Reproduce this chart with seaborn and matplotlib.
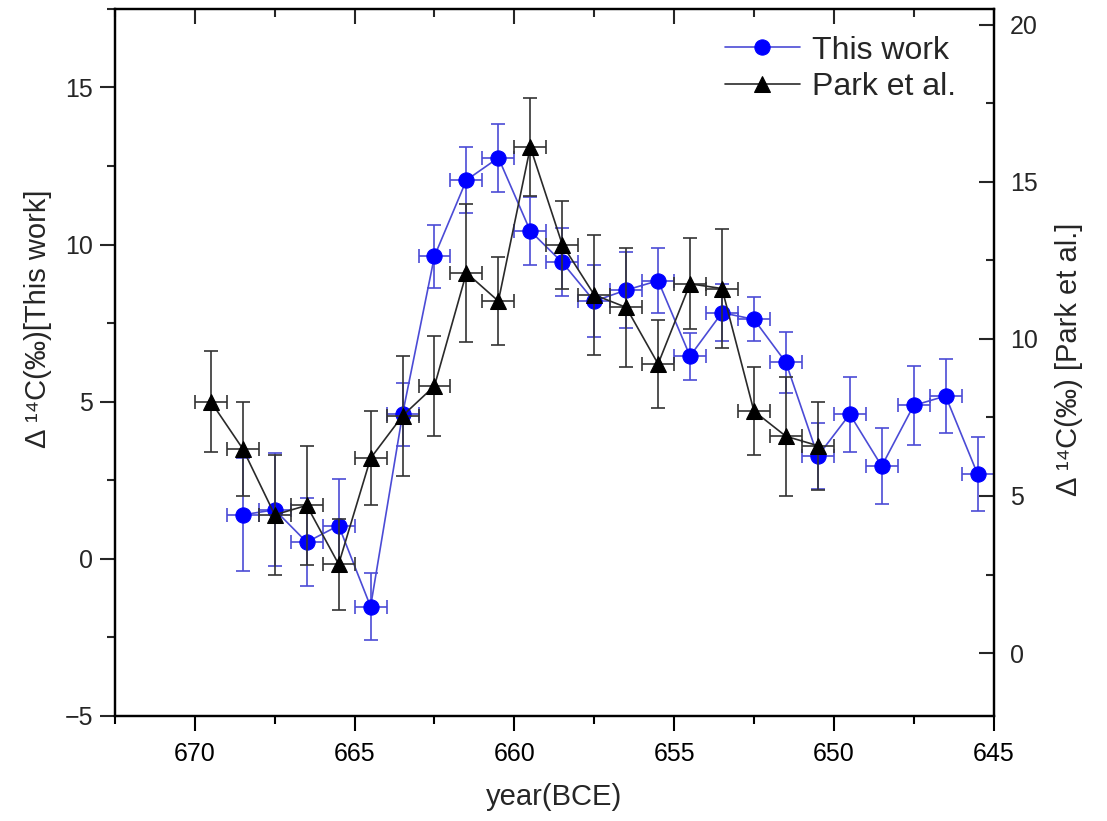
import numpy as np
import pandas as pd
import matplotlib
matplotlib.use("Agg")
import matplotlib.pyplot as plt
import seaborn as sns
from matplotlib.ticker import MultipleLocator

# ---- data ----
this_years = [668.5, 667.5, 666.5, 665.5, 664.5, 663.5, 662.5, 661.5, 660.5, 659.5,
              658.5, 657.5, 656.5, 655.5, 654.5, 653.5, 652.5, 651.5, 650.5, 649.5,
              648.5, 647.5, 646.5, 645.5]
this_vals = [1.4, 1.56, 0.53, 1.06, -1.52, 4.6, 9.63, 12.05, 12.76, 10.43,
             9.43, 8.2, 8.55, 8.85, 6.45, 7.83, 7.62, 6.25, 3.27, 4.6,
             2.95, 4.88, 5.18, 2.7]
this_err = [1.8, 1.8, 1.4, 1.47, 1.06, 1.0, 1.0, 1.05, 1.09, 1.07,
            1.08, 1.15, 1.2, 1.03, 0.75, 0.9, 0.7, 0.98, 1.05, 1.2,
            1.2, 1.25, 1.17, 1.17]

park_years = [669.5, 668.5, 667.5, 666.5, 665.5, 664.5, 663.5, 662.5, 661.5, 660.5,
              659.5, 658.5, 657.5, 656.5, 655.5, 654.5, 653.5, 652.5, 651.5, 650.5]
park_vals = [8.0, 6.5, 4.4, 4.7, 2.83, 6.2, 7.55, 8.5, 12.1, 11.2,
             16.1, 13.0, 11.4, 11.0, 9.2, 11.75, 11.6, 7.7, 6.9, 6.6]
park_err = [1.6, 1.5, 1.9, 1.9, 1.45, 1.5, 1.9, 1.6, 2.2, 1.4,
            1.55, 1.4, 1.9, 1.9, 1.4, 1.45, 1.9, 1.4, 1.9, 1.4]
year_err = 0.5

df_this = pd.DataFrame({"year": this_years, "val": this_vals})
df_park = pd.DataFrame({"year": park_years, "val": park_vals})

sns.set_theme(style="ticks")
plt.rcParams['font.family'] = ['Liberation Sans', 'DejaVu Sans']
plt.rcParams['axes.unicode_minus'] = True

fig = plt.figure(figsize=(11.07, 8.21), dpi=100)
ax = fig.add_axes([0.1039, 0.1279, 0.7936, 0.8614])
ax2 = ax.twinx()

blue_line = '#4b4bd6'
blue_mk = '#0000ff'
black_line = '#2a2a2a'

# This work (left axis)
ax.errorbar(this_years, this_vals, yerr=this_err, xerr=year_err, fmt='none',
            ecolor=blue_line, elinewidth=1.2, capsize=5, capthick=1.2, zorder=2)
sns.lineplot(data=df_this, x="year", y="val", ax=ax, color=blue_line, lw=1.2,
             marker='o', markersize=11, markerfacecolor=blue_mk,
             markeredgecolor=blue_mk, label="This work", sort=False, zorder=3,
             legend=False)

# Park et al. (right axis)
ax2.errorbar(park_years, park_vals, yerr=park_err, xerr=year_err, fmt='none',
             ecolor='#333333', elinewidth=1.2, capsize=5, capthick=1.2, zorder=2)
sns.lineplot(data=df_park, x="year", y="val", ax=ax2, color=black_line, lw=1.2,
             marker='^', markersize=12, markerfacecolor='black',
             markeredgecolor='black', label="Park et al.", sort=False, zorder=3,
             legend=False)

ax.set_xlim(672.5, 645)
ax.set_ylim(-5, 17.5)
ax2.set_ylim(-2, 20.5)

for a in (ax, ax2):
    a.xaxis.set_major_locator(MultipleLocator(5))
    a.xaxis.set_minor_locator(MultipleLocator(2.5))
    a.yaxis.set_major_locator(MultipleLocator(5))
    a.yaxis.set_minor_locator(MultipleLocator(2.5))
    for s in a.spines.values():
        s.set_linewidth(1.6)
        s.set_color('black')
        s.set_visible(True)

# bottom & left: outward ticks
ax.tick_params(axis='x', which='both', bottom=True, top=False, direction='out',
               labelsize=18, colors='black', width=1.5, pad=8)
ax.tick_params(axis='x', which='major', length=11)
ax.tick_params(axis='x', which='minor', length=6)
ax.tick_params(axis='y', which='both', left=True, right=False, direction='out',
               labelsize=18, width=1.5, pad=5)
ax.tick_params(axis='y', which='major', length=11)
ax.tick_params(axis='y', which='minor', length=6)

# right & top: inward ticks (drawn by the twin axes)
ax2.xaxis.set_visible(True)
ax2.set_xlabel("")
ax2.tick_params(axis='x', which='both', top=True, bottom=False, labeltop=False,
                labelbottom=False, direction='in', width=1.5)
ax2.tick_params(axis='x', which='major', length=11)
ax2.tick_params(axis='x', which='minor', length=6)
ax2.tick_params(axis='y', which='both', right=True, left=False, direction='in',
                labelsize=18, width=1.5, pad=12)
ax2.tick_params(axis='y', which='major', length=11)
ax2.tick_params(axis='y', which='minor', length=6)

ax.set_xlabel("year(BCE)", fontsize=21)
ax.xaxis.set_label_coords(0.5, -0.095)
ax.set_ylabel("Δ ¹⁴C(‰)[This work]", fontsize=21)
ax.yaxis.set_label_coords(-0.072, 0.562)
ax2.set_ylabel("Δ ¹⁴C(‰) [Park et al.]", fontsize=21)
ax2.yaxis.set_label_coords(1.07, 0.505)

h1, l1 = ax.get_legend_handles_labels()
h2, l2 = ax2.get_legend_handles_labels()
ax2.legend(h1 + h2, l1 + l2, loc='upper left', frameon=False, fontsize=23,
           handlelength=2.35, handletextpad=0.37, labelspacing=0.2,
           bbox_to_anchor=(0.694, 0.962), borderaxespad=0, borderpad=0)

fig.savefig("out.png", dpi=100)
